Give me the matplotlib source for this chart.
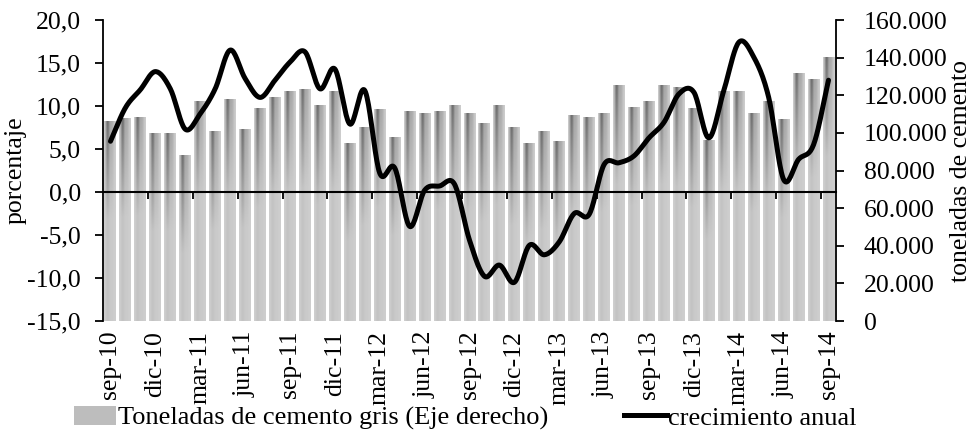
import numpy as np
import matplotlib
matplotlib.use("Agg")
import matplotlib.pyplot as plt
from matplotlib.patches import Patch
from matplotlib.lines import Line2D

plt.rcParams['font.family'] = ['Liberation Serif', 'DejaVu Serif']

# monthly categories sep-10 .. sep-14
meses = ['sep-10', 'oct-10', 'nov-10', 'dic-10', 'ene-11', 'feb-11', 'mar-11', 'abr-11', 'may-11',
         'jun-11', 'jul-11', 'ago-11', 'sep-11', 'oct-11', 'nov-11', 'dic-11', 'ene-12', 'feb-12',
         'mar-12', 'abr-12', 'may-12', 'jun-12', 'jul-12', 'ago-12', 'sep-12', 'oct-12', 'nov-12',
         'dic-12', 'ene-13', 'feb-13', 'mar-13', 'abr-13', 'may-13', 'jun-13', 'jul-13', 'ago-13',
         'sep-13', 'oct-13', 'nov-13', 'dic-13', 'ene-14', 'feb-14', 'mar-14', 'abr-14', 'may-14',
         'jun-14', 'jul-14', 'ago-14', 'sep-14']

# tons of grey cement (right axis)
toneladas = [106500, 107800, 108600, 100100, 100100, 88300, 117000, 101200, 118200, 102200,
             113100, 119200, 122400, 123500, 114700, 122400, 94800, 103300, 112900, 98000,
             111800, 110400, 111800, 114800, 110400, 105400, 114800, 103300, 94800, 101200,
             95700, 109500, 108600, 110400, 125300, 113900, 117100, 125300, 124200, 113100,
             96200, 122400, 122400, 110400, 117100, 107500, 132000, 128800, 140200]

# annual growth, % (left axis)
crecimiento = [5.9, 9.8, 11.9, 14.0, 12.0, 7.3, 9.1, 12.0, 16.5, 13.2,
               11.0, 13.0, 15.1, 16.3, 12.0, 14.3, 7.9, 11.8, 2.2, 2.8,
               -4.0, 0.2, 0.7, 0.9, -5.6, -9.8, -8.5, -10.5, -6.2, -7.3,
               -5.8, -2.5, -2.6, 3.2, 3.4, 4.2, 6.3, 8.1, 11.4, 11.6,
               6.3, 11.8, 17.4, 15.7, 11.0, 1.45, 3.8, 5.5, 13.0]

etiquetas = ['sep-10', 'dic-10', 'mar-11', 'jun-11', 'sep-11', 'dic-11', 'mar-12', 'jun-12',
             'sep-12', 'dic-12', 'mar-13', 'jun-13', 'sep-13', 'dic-13', 'mar-14', 'jun-14', 'sep-14']

FS = 18.5


def smooth(x, y, n=20):
    # catmull-rom curve through the points (like Excel's smoothed line)
    x = np.asarray(x, float)
    y = np.asarray(y, float)
    px = np.concatenate([[2 * x[0] - x[1]], x, [2 * x[-1] - x[-2]]])
    py = np.concatenate([[2 * y[0] - y[1]], y, [2 * y[-1] - y[-2]]])
    t = np.linspace(0, 1, n, endpoint=False)
    xs, ys = [], []
    for i in range(1, len(px) - 2):
        for p, out in ((px, xs), (py, ys)):
            p0, p1, p2, p3 = p[i - 1], p[i], p[i + 1], p[i + 2]
            out.extend(0.5 * (2 * p1 + (-p0 + p2) * t + (2 * p0 - 5 * p1 + 4 * p2 - p3) * t ** 2
                              + (-p0 + 3 * p1 - 3 * p2 + p3) * t ** 3))
    xs.append(x[-1])
    ys.append(y[-1])
    return np.array(xs), np.array(ys)


def comma(v, pos=None):
    return f"{v:.1f}".replace('.', ',')


def miles(v, pos=None):
    return f"{int(v):,}".replace(',', '.')


fig = plt.figure(figsize=(9.71, 4.38), dpi=100)
ax = fig.add_axes([103 / 971, 1 - 321 / 438, (836 - 103) / 971, (321 - 20) / 438])
ax2 = ax.twinx()

x = np.arange(len(meses))

# bars with a grey gradient
bars = ax2.bar(x, toneladas, width=0.8, color='#c6c6c6', linewidth=0)
u = np.linspace(0, 1, 40)
perfil = 0.38 * np.exp(-((u - 0.3) / 0.17) ** 2) + 0.14 * np.exp(-((u - 0.65) / 0.2) ** 2)
perfil[:2] *= 0.3
for r in bars:
    h = r.get_height()
    yy = np.linspace(0, h, 120)
    a = np.clip(1 - (h - yy) / 60000, 0.12, 1.0)
    img = 0.81 - a[:, None] * perfil[None, :]
    im = ax2.imshow(img, cmap='gray', vmin=0, vmax=1, origin='lower', aspect='auto',
                    extent=(r.get_x(), r.get_x() + r.get_width(), 0, h),
                    interpolation='bilinear', zorder=1)
    im.set_clip_path(r)

sx, sy = smooth(x, crecimiento)
ax.plot(sx, sy, color='black', lw=3.6, solid_capstyle='round', zorder=5)

ax.set_zorder(ax2.get_zorder() + 1)
ax.patch.set_visible(False)

ax.set_xlim(-0.5, len(meses) - 0.5)
ax.set_ylim(-15, 20)
ax.set_yticks(np.arange(-15, 20.1, 5))
ax.yaxis.set_major_formatter(plt.FuncFormatter(comma))
ax2.set_ylim(0, 160000)
ax2.set_yticks(np.arange(0, 160001, 20000))
ax2.yaxis.set_major_formatter(plt.FuncFormatter(miles))

pos = [meses.index(m) for m in etiquetas]
ax.set_xticks(pos)
ax.set_xticklabels(etiquetas, rotation=90)
ax.tick_params(axis='x', length=0, pad=7, labelsize=FS)
ax.tick_params(axis='y', direction='out', length=6, width=1.3, labelsize=FS, pad=10)
ax2.tick_params(axis='y', direction='out', length=6, width=1.3, labelsize=FS, pad=14)

for a_ in (ax, ax2):
    a_.spines['top'].set_visible(False)
    a_.spines['bottom'].set_visible(False)
ax.spines['left'].set_linewidth(1.3)
ax2.spines['right'].set_linewidth(1.3)
ax2.spines['left'].set_visible(False)
ax.spines['right'].set_visible(False)

# category axis crossing at 0
cero = ax.secondary_xaxis(15 / 35)
cero.set_xticks(np.arange(2.5, len(meses) - 1, 3))
cero.set_xticklabels([])
cero.tick_params(direction='out', length=5, width=1.3)
cero.spines['bottom'].set_linewidth(1.5)

ax.set_ylabel('porcentaje', fontsize=FS)
ax.yaxis.set_label_coords(-(103 - 27) / 733, 0.5)
ax2.set_ylabel('toneladas de cemento', fontsize=FS)
ax2.yaxis.set_label_coords((950 - 103) / 733, 0.5)

handles = [Patch(facecolor='#bdbdbd', edgecolor='none'),
           Line2D([], [], color='black', lw=3.6)]
fig.legend(handles, ['Toneladas de cemento gris (Eje derecho)', 'crecimiento anual'],
           loc='center left', bbox_to_anchor=(74 / 971, 1 - 418 / 438), ncol=2, frameon=False,
           fontsize=19, handlelength=1.6, handletextpad=0.05, columnspacing=2.9,
           borderaxespad=0, borderpad=0)

fig.savefig('out.png', dpi=100)
